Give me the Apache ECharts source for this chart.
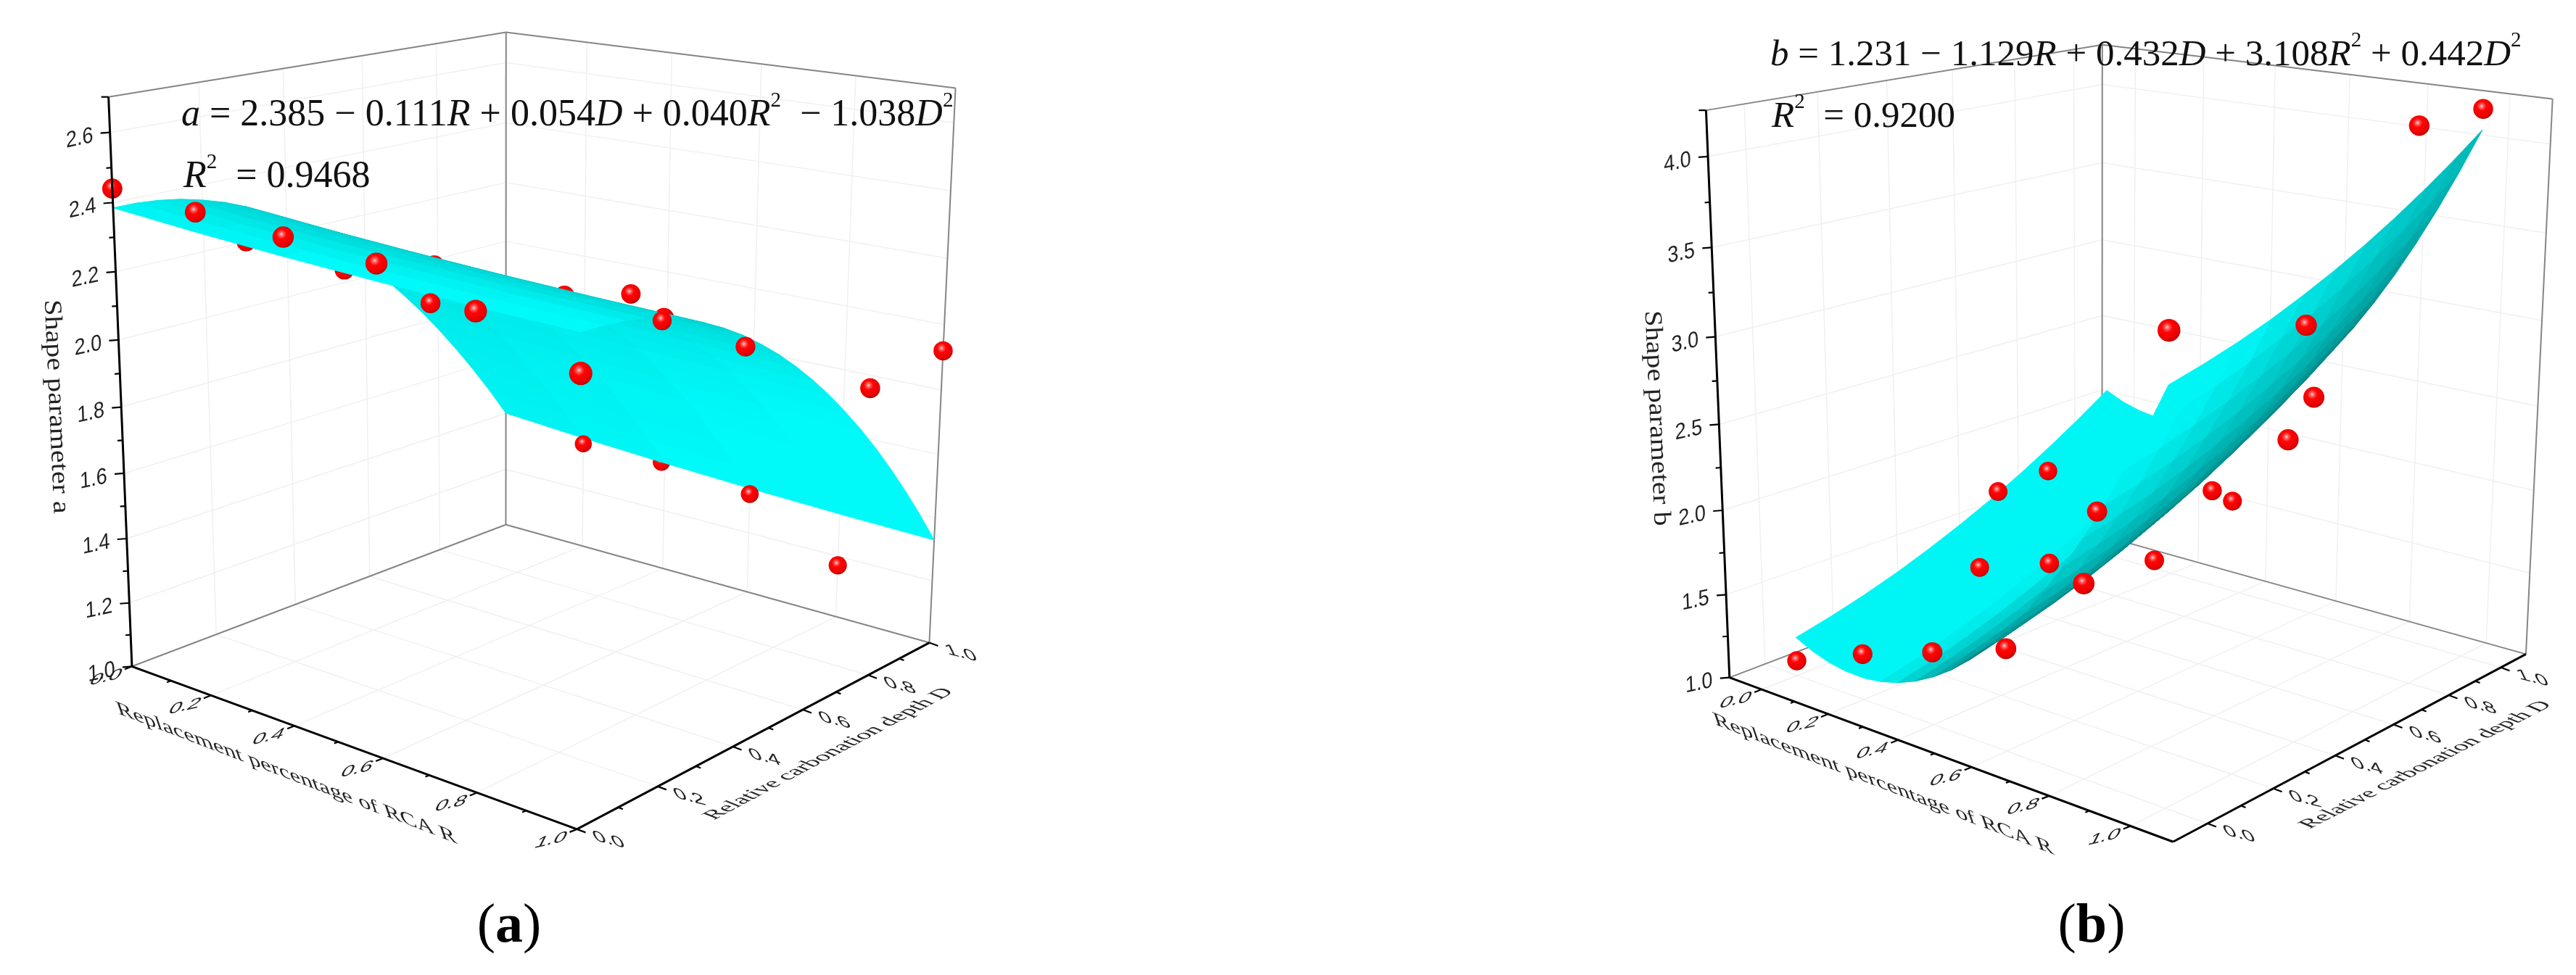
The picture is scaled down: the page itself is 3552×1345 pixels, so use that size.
<!DOCTYPE html>
<html><head><meta charset="utf-8">
<script src="https://cdn.jsdelivr.net/npm/echarts@6/dist/echarts.min.js"></script>
<style>html,body{margin:0;background:#fff}#c{width:3552px;height:1345px}</style></head>
<body><div id="c"></div>
<script>
// ---------- data ----------
const gridRA = [0,0.2,0.4,0.6,0.8,1];
const gridDA = [0,0.05,0.1,0.15,0.2,0.25,0.3,0.35,0.4,0.45,0.5,0.55,0.6,0.65,0.7,0.75,0.8,0.85,0.9,0.95,1];
const gridRB = [0,0.05,0.1,0.15,0.2,0.25,0.3,0.35,0.4,0.45,0.5,0.55,0.6,0.65,0.7,0.75,0.8,0.85,0.9,0.95,1];
const gridDB = [0,0.1,0.2,0.3,0.4,0.5,0.6,0.7,0.8,0.9,1];
// surface heights: one row per R, one column per D
const surfaceA = [
[2.385,2.385,2.380,2.370,2.354,2.334,2.308,2.277,2.241,2.199,2.153,2.101,2.044,1.982,1.914,1.842,1.764,1.681,1.593,1.500,1.401],
[2.364,2.364,2.359,2.349,2.333,2.313,2.287,2.256,2.220,2.178,2.132,2.080,2.023,1.961,1.893,1.821,1.743,1.660,1.572,1.479,1.380],
[2.347,2.347,2.342,2.332,2.316,2.296,2.270,2.239,2.203,2.161,2.115,2.063,2.006,1.944,1.876,1.804,1.726,1.643,1.555,1.462,1.363],
[2.333,2.333,2.328,2.318,2.302,2.282,2.256,2.225,2.189,2.147,2.101,2.049,1.992,1.930,1.862,1.790,1.712,1.629,1.541,1.448,1.349],
[2.322,2.322,2.317,2.307,2.291,2.271,2.245,2.214,2.178,2.136,2.090,2.038,1.981,1.919,1.851,1.779,1.701,1.618,1.530,1.437,1.338],
[2.314,2.314,2.309,2.299,2.283,2.263,2.237,2.206,2.170,2.128,2.082,2.030,1.973,1.911,1.843,1.771,1.693,1.610,1.522,1.429,1.330]];
const surfaceB = [
[1.231,1.279,1.335,1.400,1.475,1.558,1.649,1.750,1.860,1.978,2.105],
[1.182,1.230,1.286,1.351,1.426,1.509,1.600,1.701,1.811,1.929,2.056],
[1.149,1.197,1.253,1.318,1.393,1.476,1.567,1.668,1.778,1.896,2.023],
[1.132,1.180,1.236,1.301,1.376,1.459,1.550,1.651,1.761,1.879,2.006],
[1.129,1.177,1.233,1.298,1.373,1.456,1.547,1.648,1.758,1.876,2.003],
[1.143,1.191,1.247,1.312,1.387,1.470,1.561,1.662,1.772,1.890,2.017],
[1.172,1.220,1.276,1.341,1.416,1.499,1.590,1.691,1.801,1.919,2.046],
[1.217,1.265,1.321,1.386,1.461,1.544,1.635,1.736,1.846,1.964,2.091],
[1.277,1.325,1.381,1.446,1.521,1.604,1.695,1.796,1.906,2.024,2.151],
[1.352,1.400,1.456,1.521,1.596,1.679,1.770,1.871,1.981,2.099,2.226],
[1.444,1.492,1.548,1.613,1.688,1.771,1.862,1.963,2.073,2.191,2.318],
[1.550,1.598,1.654,1.719,1.794,1.877,1.968,2.069,2.179,2.297,2.424],
[1.673,1.721,1.777,1.842,1.917,2.000,2.091,2.192,2.302,2.420,2.547],
[1.810,1.858,1.914,1.979,2.054,2.137,2.228,2.329,2.439,2.557,2.684],
[1.964,2.012,2.068,2.133,2.208,2.291,2.382,2.483,2.593,2.711,2.838],
[2.133,2.181,2.237,2.302,2.377,2.460,2.551,2.652,2.762,2.880,3.007],
[2.317,2.365,2.421,2.486,2.561,2.644,2.735,2.836,2.946,3.064,3.191],
[2.517,2.565,2.621,2.686,2.761,2.844,2.935,3.036,3.146,3.264,3.391],
[2.732,2.780,2.836,2.901,2.976,3.059,3.150,3.251,3.361,3.479,3.606],
[2.963,3.011,3.067,3.132,3.207,3.290,3.381,3.482,3.592,3.710,3.837],
[3.210,3.258,3.314,3.379,3.454,3.537,3.628,3.729,3.839,3.957,4.084]];
// measured points [R, D, value]; "Behind" ones are hidden by the surface
const pointsAFront = [[0,0,2.44],[0.2,0,2.42],[0.4,0,2.40],[0.6,0,2.38],[0.8,0,2.31],[1,0,2.21],[0.4,0.34,2.11],[0.6,0.63,2.10],[0.6,0.72,1.99],[0.8,0.69,1.98],[1,0.77,1.89],[1,1,1.92],[0.2,1,1.36],[0.6,1,1.33],[0.8,1,1.17]];
const pointsABehind = [[0,0.30,2.20],[0.2,0.34,2.155],[0.4,0.35,2.218],[0.6,0.45,2.152],[0.8,0.46,2.14],[0.8,0.04,2.29],[0.4,0.99,1.37]];
const pointsBFront = [[1,1,4.20],[1,0.77,4.19],[1,0,3.48],[1,0.41,3.29],[1,0.44,2.89],[1,0.36,2.71],[0.6,0.64,2.02],[0.6,0.71,1.91],[0.6,0.45,1.74],[0.8,0,2.07],[0.2,0.41,1.94],[0.2,0.57,1.96],[0.2,0.35,1.52],[0.4,0.35,1.67],[0,0,1.09],[0.2,0,1.27],[0.4,0,1.42],[0.6,0,1.58],[0.6,0.27,2.15]];
const pointsBBehind = [];
const ticksRD = [0,0.2,0.4,0.6,0.8,1];
const minorRD = [0.1,0.3,0.5,0.7,0.9];
const ticksZA = [1,1.2,1.4,1.6,1.8,2.0,2.2,2.4,2.6];
const minorZA = [1.1,1.3,1.5,1.7,1.9,2.1,2.3,2.5];
const ticksZB = [1,1.5,2,2.5,3,3.5,4];
const minorZB = [1.25,1.75,2.25,2.75,3.25,3.75];
const titleR = 'Replacement percentage of RCA R';
const titleD = 'Relative carbonation depth D';

// ---------- camera: axis-box corners seen in the picture ----------
const frameA = {rng:{R:[0,1],D:[0,1],Z:[1,2.7]},shade:[205,250,1.15],
  corners:[[0,0,0,181.8,919],[1,0,0,795.7,1144],[1,1,0,1281.3,886.5],[0,1,0,697.6,724],[0,0,1,149.6,133.9],[0,1,1,697.8,44.4],[1,1,1,1317.5,121.5]]};
const frameB = {rng:{R:[-0.1,1.1],D:[-0.1,1.1],Z:[1,4.25]},shade:[125,245,1.7],
  corners:[[0,0,0,2385.3,935.9],[1,0,0,2995.5,1160.6],[1,1,0,3483.4,902.6],[0,1,0,2898.3,738],[0,0,1,2352.7,151.3],[0,1,1,2898.3,62.2],[1,1,1,3520,136.8]]};

function fitCamera(c){
  const A=[],b=[];
  for(const [u,v,t,x,y] of c){A.push([u,v,t,1,0,0,0,0,-x*u,-x*v,-x*t]);b.push(x);A.push([0,0,0,0,u,v,t,1,-y*u,-y*v,-y*t]);b.push(y);}
  const n=11,M=[...Array(n)].map((_,i)=>{const r=Array(n+1).fill(0);for(let k=0;k<A.length;k++){for(let j=0;j<n;j++)r[j]+=A[k][i]*A[k][j];r[n]+=A[k][i]*b[k];}return r;});
  for(let i=0;i<n;i++){let m=i;for(let k=i;k<n;k++)if(Math.abs(M[k][i])>Math.abs(M[m][i]))m=k;[M[i],M[m]]=[M[m],M[i]];for(let k=0;k<n;k++)if(k!==i){const f=M[k][i]/M[i][i];for(let j=i;j<=n;j++)M[k][j]-=f*M[i][j];}}
  return M.map((r,i)=>r[n]/r[i]);
}
function makeProjector(frame){
  const p=fitCamera(frame.corners),g=frame.rng;
  const unit=(R,D,Z)=>[(R-g.R[0])/(g.R[1]-g.R[0]),(D-g.D[0])/(g.D[1]-g.D[0]),(Z-g.Z[0])/(g.Z[1]-g.Z[0])];
  return (R,D,Z)=>{const [u,v,t]=unit(R,D,Z),w=p[8]*u+p[9]*v+p[10]*t+1;
    return {x:(p[0]*u+p[1]*v+p[2]*t+p[3])/w,y:(p[4]*u+p[5]*v+p[6]*t+p[7])/w,w,u,v,t};};
}
const SANS='"Liberation Sans"';
const deg=d=>d*Math.PI/180;

function panelSeries(frame,gridR,gridD,surface,front,behind,ticksZ,minorZ){
  const P=makeProjector(frame),g=frame.rng,series=[];
  const [R0,R1]=g.R,[D0,D1]=g.D,[Z0,Z1]=g.Z;
  const walls=[];
  for(const t of ticksRD){
    walls.push([t,D0,Z0,t,D1,Z0,0],[t,D1,Z0,t,D1,Z1,0]);
    walls.push([R0,t,Z0,R1,t,Z0,0],[R0,t,Z0,R0,t,Z1,0]);
  }
  for(const z of ticksZ){ if(z>Z0) walls.push([R0,D0,z,R0,D1,z,0],[R0,D1,z,R1,D1,z,0]); }
  walls.push([R0,D1,Z0,R1,D1,Z0,1],[R0,D0,Z0,R0,D1,Z0,1],[R0,D1,Z0,R0,D1,Z1,1],[R1,D1,Z0,R1,D1,Z1,1],[R0,D0,Z1,R0,D1,Z1,1],[R0,D1,Z1,R1,D1,Z1,1]);
  const lineStyle=[{stroke:'#f0f0f0',lineWidth:1.5},{stroke:'#858585',lineWidth:2}];
  series.push(lineSeries(P,walls,lineStyle,1));
  series.push(sphereSeries(P,behind,2));
  const quads=[];let best=0;
  for(let i=0;i<gridR.length-1;i++)for(let j=0;j<gridD.length-1;j++){
    const q=[gridR[i],gridR[i+1],gridD[j],gridD[j+1],surface[i][j],surface[i][j+1],surface[i+1][j+1],surface[i+1][j]];
    const a=P(q[0],q[2],q[4]),b=P(q[0],q[3],q[5]),c=P(q[1],q[3],q[6]),d=P(q[1],q[2],q[7]);
    const s2=Math.abs((c.x-a.x)*(d.y-b.y)-(d.x-b.x)*(c.y-a.y));
    const e=[c.u-a.u,c.v-a.v,c.t-a.t],f=[d.u-b.u,d.v-b.v,d.t-b.t];
    const s3=Math.hypot(e[1]*f[2]-e[2]*f[1],e[2]*f[0]-e[0]*f[2],e[0]*f[1]-e[1]*f[0]);
    const ratio=s2/s3;best=Math.max(best,ratio);
    q.push(ratio,(a.w+b.w+c.w+d.w)/4);quads.push(q);
  }
  quads.sort((x,y)=>y[9]-x[9]);
  const [cLo,cHi,gain]=frame.shade;
  series.push({type:'custom',coordinateSystem:'cartesian2d',z:3,clip:false,silent:true,animation:false,data:quads,
    renderItem:(params,api)=>{
      const v=i=>api.value(i),pts=[[v(0),v(2),v(4)],[v(0),v(3),v(5)],[v(1),v(3),v(6)],[v(1),v(2),v(7)]].map(q=>{const r=P(q[0],q[1],q[2]);return api.coord([r.x,r.y]);});
      const t=Math.min(1,v(8)/best*gain),c=Math.round(cLo+(cHi-cLo)*t);
      const col='rgb(0,'+c+','+c+')';
      return {type:'polygon',shape:{points:pts},style:{fill:col,stroke:col,lineWidth:1}};
    }});
  series.push(sphereSeries(P,front,4));
  const axes=[[R0,D0,Z0,R1,D0,Z0,0],[R1,D0,Z0,R1,D1,Z0,0],[R0,D0,Z0,R0,D0,Z1,0]];
  series.push(lineSeries(P,axes,[{stroke:'#000',lineWidth:3}],5));
  const tk=[];
  const add=(list,fn,len,dir)=>list.forEach(t=>{const q=fn(t);tk.push([q[0],q[1],q[2],dir[0]*len,dir[1]*len]);});
  const yAt=(z)=>[R0,D0,z],rAt=t=>[t,D0,Z0],dAt=t=>[R1,t,Z0];
  add(ticksRD,rAt,1,[-10,4]);add(minorRD,rAt,0.55,[-10,4]);
  add(ticksRD,dAt,1,[12,4.5]);add(minorRD,dAt,0.55,[12,4.5]);
  add(ticksZ,yAt,1,[-13,1]);add(minorZ,yAt,0.55,[-13,1]);
  tk.push([R0,D0,Z1,-10,0]);
  series.push({type:'custom',coordinateSystem:'cartesian2d',z:5,clip:false,silent:true,animation:false,data:tk,
    renderItem:(params,api)=>{const r=P(api.value(0),api.value(1),api.value(2)),a=api.coord([r.x,r.y]);
      return {type:'line',shape:{x1:a[0],y1:a[1],x2:a[0]+api.value(3),y2:a[1]+api.value(4)},style:{stroke:'#000',lineWidth:2.2}};}});
  const lab=[],txt=[];
  ticksRD.forEach(t=>{lab.push([t,D0,Z0,-36,15.5,13,0.62,-40]);txt.push(t.toFixed(1));});
  ticksRD.forEach(t=>{lab.push([R1,t,Z0,44,15,-14,0.62,40]);txt.push(t.toFixed(1));});
  ticksZ.forEach(z=>{lab.push([R0,D0,z,-42,8.5,12,1.02,-10]);txt.push(z.toFixed(1));});
  series.push({type:'custom',coordinateSystem:'cartesian2d',z:6,clip:false,silent:true,animation:false,data:lab,
    renderItem:(params,api)=>{const r=P(api.value(0),api.value(1),api.value(2)),a=api.coord([r.x,r.y]);
      return {type:'text',x:a[0]+api.value(3),y:a[1]+api.value(4),rotation:deg(api.value(5)),scaleX:api.value(6)<1?1.05:0.92,scaleY:api.value(6),skewX:deg(api.value(7)),
        style:{text:txt[params.dataIndex],font:'30px '+SANS,fill:'#222',align:'center',verticalAlign:'middle'}};}});
  return series;
}
function lineSeries(P,rows,styles,z){
  return {type:'custom',coordinateSystem:'cartesian2d',z,clip:false,silent:true,animation:false,data:rows,
    renderItem:(params,api)=>{
      const a=P(api.value(0),api.value(1),api.value(2)),b=P(api.value(3),api.value(4),api.value(5));
      const A=api.coord([a.x,a.y]),B=api.coord([b.x,b.y]);
      return {type:'line',shape:{x1:A[0],y1:A[1],x2:B[0],y2:B[1]},style:styles[api.value(6)]};
    }};
}
const ballFill=new echarts.graphic.RadialGradient(0.42,0.36,0.68,[{offset:0,color:'#ffd8d8'},{offset:0.14,color:'#ff6060'},{offset:0.34,color:'#ff0505'},{offset:0.8,color:'#e60000'},{offset:1,color:'#a80000'}]);
function sphereSeries(P,rows,z){
  return {type:'custom',coordinateSystem:'cartesian2d',z,clip:false,silent:true,animation:false,data:rows,
    renderItem:(params,api)=>{
      const r=P(api.value(0),api.value(1),api.value(2)),c=api.coord([r.x,r.y]);
      return {type:'circle',shape:{cx:c[0],cy:c[1],r:13.2/r.w},style:{fill:ballFill}};
    }};
}
const sets=panelSeries(frameA,gridRA,gridDA,surfaceA,pointsAFront,pointsABehind,ticksZA,minorZA).concat(
           panelSeries(frameB,gridRB,gridDB,surfaceB,pointsBFront,pointsBBehind,ticksZB,minorZB));

function eqRich(fs){const f='Liberation Serif';return {n:{fontFamily:f,fontSize:fs,lineHeight:60,verticalAlign:'bottom',color:'#111'},
  i:{fontFamily:f,fontStyle:'italic',fontSize:fs,lineHeight:60,verticalAlign:'bottom',color:'#111'},
  s:{fontFamily:f,fontSize:Math.round(fs*0.56),lineHeight:60,verticalAlign:'top',color:'#111'}};}
const eq=(x,y,t,fs)=>({type:'text',x,y,z:20,silent:true,style:{fontFamily:'Liberation Serif',fontSize:fs,fill:'#111',text:t,rich:eqRich(fs),align:'left',verticalAlign:'middle'}});
const capRich={p:{fontFamily:'Liberation Serif',fontSize:76,color:'#000'},b:{fontFamily:'Liberation Serif',fontSize:76,fontWeight:'bold',color:'#000'}};
const cap=(x,y,t)=>({type:'text',x,y,z:20,silent:true,style:{text:t,rich:capRich,align:'center',verticalAlign:'middle'}});
const title=(x,y,t,rot,sy,sk,fs,sx)=>({type:'text',x,y,z:20,silent:true,rotation:deg(rot),scaleX:sx||1,scaleY:sy,skewX:deg(sk),
  style:{text:t,fontFamily:'Liberation Serif',fontSize:fs,fill:'#222',align:'center',verticalAlign:'middle'}});

const chart=echarts.init(document.getElementById('c'),null,{renderer:'canvas'});
chart.setOption({
  animation:false,backgroundColor:'#fff',
  grid:{left:0,right:0,top:0,bottom:0},
  xAxis:{type:'value',min:0,max:3552,show:false},
  yAxis:{type:'value',min:0,max:1345,inverse:true,show:false},
  series:sets,
  graphic:{elements:[
    eq(250,155,'{i|a}{n| = 2.385 − 0.111}{i|R}{n| + 0.054}{i|D}{n| + 0.040}{i|R}{s|2}{n|  − 1.038}{i|D}{s|2}',52),
    eq(253,240,'{i|R}{s|2}{n|  = 0.9468}',52),
    eq(2441,72,'{i|b}{n| = 1.231 − 1.129}{i|R}{n| + 0.432}{i|D}{n| + 3.108}{i|R}{s|2}{n| + 0.442}{i|D}{s|2}',51),
    eq(2443,157,'{i|R}{s|2}{n|  = 0.9200}',51),
    cap(702,1279,'{p|(}{b|a}{p|)}'),
    cap(2884,1279,'{p|(}{b|b}{p|)}'),
    title(77,561,'Shape parameter a',-87.5,0.85,0,40,1),
    title(2284,577,'Shape parameter b',-87.5,0.85,0,40,1),
    title(395,1067,titleR,-21,0.62,40,35.5),
    title(2597,1082,titleR,-21,0.62,40,35.5),
    title(1143,1040,titleD,28,0.72,40,32),
    title(3345,1055,titleD,27,0.72,40,32)
  ]}
});
</script></body></html>
